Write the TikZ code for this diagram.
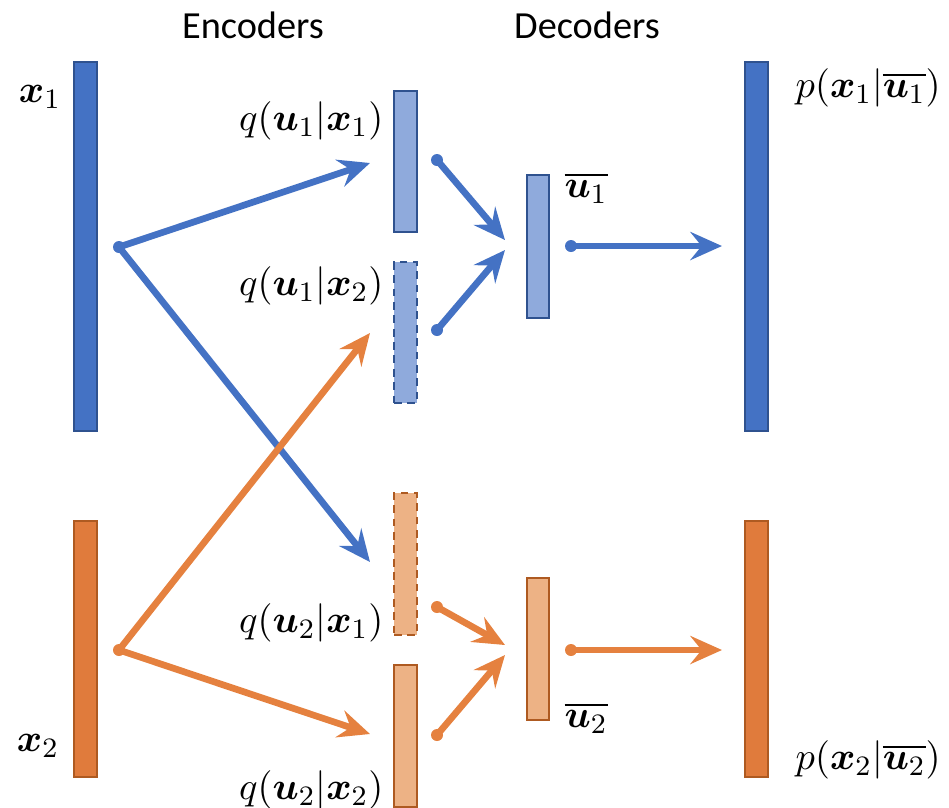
\documentclass[tikz,border=0pt]{standalone}
\usepackage{amsmath}
\usepackage{fontspec}
\newfontfamily\headfont{Carlito}
\usetikzlibrary{arrows.meta,calc}
\definecolor{bdark}{HTML}{4472C4}
\definecolor{bline}{HTML}{2F528F}
\definecolor{blight}{HTML}{8FAADC}
\definecolor{odark}{HTML}{E07B3C}
\definecolor{oline}{HTML}{AE5A21}
\definecolor{olight}{HTML}{EDB285}
\definecolor{barrow}{HTML}{4472C4}
\definecolor{oarrow}{HTML}{E5813F}
\tikzset{
  bar/.style={draw, inner sep=0pt, line width=0.6pt, minimum width=0.23cm},
  dashbar/.style={bar, dash pattern=on 2.2pt off 1.6pt},
  lbl/.style={inner sep=0pt, font=\fontsize{10.8}{13}\selectfont},
  head/.style={inner sep=0pt, font=\headfont\fontsize{10.9}{13}\selectfont},
  conn/.style={line width=1.9pt, -{Stealth[length=9pt,width=8pt,inset=3.2pt]}},
  dot/.style={circle, fill, inner sep=0pt, minimum size=0.12cm}
}
\begin{document}
\begin{tikzpicture}[x=1cm,y=1cm]
\useasboundingbox (0,0) rectangle (9.49,-8.07);
% headings
\node[head] (enc) at (2.53,-0.25) {Encoders};
\node[head] (dec) at (5.87,-0.25) {Decoders};
% input / output bars
\node[bar, fill=bdark, draw=bline, minimum height=3.69cm] (x1) at (0.855,-2.465) {};
\node[bar, fill=odark, draw=oline, minimum height=2.56cm] (x2) at (0.855,-6.49) {};
\node[bar, fill=bdark, draw=bline, minimum height=3.69cm] (o1) at (7.565,-2.465) {};
\node[bar, fill=odark, draw=oline, minimum height=2.56cm] (o2) at (7.565,-6.49) {};
% encoder bars
\node[bar, fill=blight, draw=bline, minimum height=1.41cm] (e11) at (4.055,-1.615) {};
\node[dashbar, fill=blight, draw=bline, minimum height=1.41cm] (e12) at (4.055,-3.325) {};
\node[dashbar, fill=olight, draw=oline, minimum height=1.42cm] (e21) at (4.055,-5.64) {};
\node[bar, fill=olight, draw=oline, minimum height=1.42cm] (e22) at (4.055,-7.36) {};
% decoder bars
\node[bar, fill=blight, draw=bline, minimum height=1.43cm, minimum width=0.22cm] (d1) at (5.38,-2.465) {};
\node[bar, fill=olight, draw=oline, minimum height=1.42cm, minimum width=0.22cm] (d2) at (5.38,-6.49) {};
% labels
\node[lbl] (lx1) at (0.40,-0.97) {$\boldsymbol{x}_1$};
\node[lbl] (lx2) at (0.38,-7.46) {$\boldsymbol{x}_2$};
\node[lbl, anchor=east] (l11) at (3.84,-1.21) {$q(\boldsymbol{u}_1|\boldsymbol{x}_1)$};
\node[lbl, anchor=east] (l12) at (3.84,-2.86) {$q(\boldsymbol{u}_1|\boldsymbol{x}_2)$};
\node[lbl, anchor=east] (l21) at (3.84,-6.23) {$q(\boldsymbol{u}_2|\boldsymbol{x}_1)$};
\node[lbl, anchor=east] (l22) at (3.84,-7.90) {$q(\boldsymbol{u}_2|\boldsymbol{x}_2)$};
\node[lbl, anchor=west] (lu1) at (5.64,-1.88) {$\overline{\boldsymbol{u}_1}$};
\node[lbl, anchor=west] (lu2) at (5.64,-7.18) {$\overline{\boldsymbol{u}_2}$};
\node[lbl, anchor=west] (lp1) at (7.95,-0.88) {$p(\boldsymbol{x}_1|\overline{\boldsymbol{u}_1})$};
\node[lbl, anchor=west] (lp2) at (7.95,-7.60) {$p(\boldsymbol{x}_2|\overline{\boldsymbol{u}_2})$};
% dots
\node[dot, barrow] (s1) at (1.19,-2.47) {};
\node[dot, oarrow] (s2) at (1.19,-6.50) {};
\node[dot, barrow] (a11) at (4.37,-1.60) {};
\node[dot, barrow] (a12) at (4.37,-3.30) {};
\node[dot, oarrow] (a21) at (4.37,-6.07) {};
\node[dot, oarrow] (a22) at (4.37,-7.35) {};
\node[dot, barrow] (b1) at (5.71,-2.46) {};
\node[dot, oarrow] (b2) at (5.71,-6.50) {};
% arrow tips
\coordinate (t11) at (3.70,-1.63);
\coordinate (t21) at (3.70,-5.62);
\coordinate (t12) at (3.70,-3.33);
\coordinate (t22) at (3.70,-7.34);
\coordinate (tu1a) at (5.05,-2.40);
\coordinate (tu1b) at (5.05,-2.50);
\coordinate (tu2a) at (5.05,-6.45);
\coordinate (tu2b) at (5.05,-6.55);
\coordinate (to1) at (7.22,-2.46);
\coordinate (to2) at (7.22,-6.50);
% connectors
\draw[conn, barrow] (s1.center) -- (t11);
\draw[conn, barrow] (s1.center) -- (t21);
\draw[conn, oarrow] (s2.center) -- (t12);
\draw[conn, oarrow] (s2.center) -- (t22);
\draw[conn, barrow] (a11.center) -- (tu1a);
\draw[conn, barrow] (a12.center) -- (tu1b);
\draw[conn, oarrow] (a21.center) -- (tu2a);
\draw[conn, oarrow] (a22.center) -- (tu2b);
\draw[conn, barrow] (b1.center) -- (to1);
\draw[conn, oarrow] (b2.center) -- (to2);
\end{tikzpicture}
\end{document}
